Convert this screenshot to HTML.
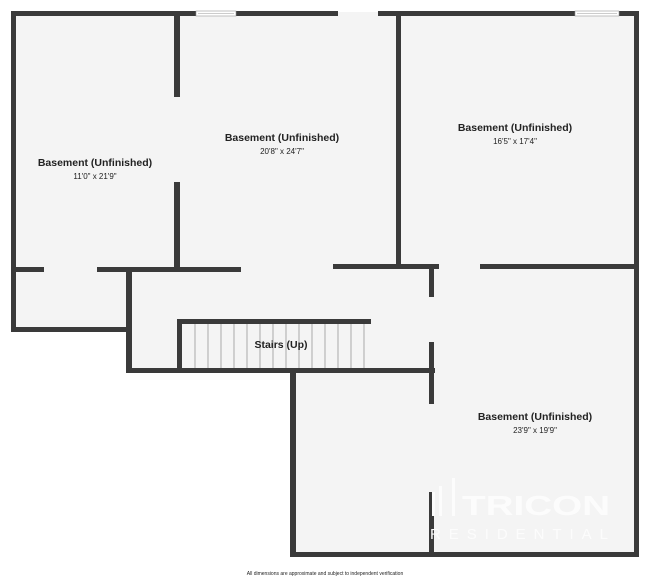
<!DOCTYPE html>
<html><head><meta charset="utf-8"><style>
html,body{margin:0;padding:0;background:#fff;}
svg{display:block;}
text{font-family:"Liberation Sans",sans-serif;fill:#222;}
</style></head><body>
<svg width="650" height="579" viewBox="0 0 650 579" xmlns="http://www.w3.org/2000/svg">
<polygon points="12,12 638,12 638,556 291,556 291,372 127,372 127,331 12,331" fill="#f4f4f4"/>
<g fill="#3a3a3a">
<rect x="11" y="11" width="185" height="5"/>
<rect x="236" y="11" width="102" height="5"/>
<rect x="378" y="11" width="197" height="5"/>
<rect x="619" y="11" width="20" height="5"/>
<rect x="11" y="11" width="5" height="321"/>
<rect x="634" y="11" width="5" height="546"/>
<rect x="174" y="11" width="6" height="86"/>
<rect x="174" y="182" width="6" height="89"/>
<rect x="396" y="11" width="5" height="256"/>
<rect x="11" y="267" width="33" height="5"/>
<rect x="97" y="267" width="144" height="5"/>
<rect x="333" y="264" width="106" height="5"/>
<rect x="480" y="264" width="159" height="5"/>
<rect x="126" y="267" width="6" height="106"/>
<rect x="11" y="327" width="121" height="5"/>
<rect x="429" y="264" width="5" height="33"/>
<rect x="429" y="342" width="5" height="62"/>
<rect x="429" y="492" width="5" height="65"/>
<rect x="177" y="319" width="194" height="5"/>
<rect x="177" y="319" width="5" height="54"/>
<rect x="126" y="368" width="309" height="5"/>
<rect x="290" y="368" width="6" height="189"/>
<rect x="290" y="552" width="349" height="5"/>
</g>
<g fill="#fff" stroke="#999" stroke-width="0.6">
<rect x="196" y="11" width="40" height="5"/>
<rect x="575" y="11" width="44" height="5"/>
</g>
<line x1="198" y1="13.5" x2="234" y2="13.5" stroke="#999" stroke-width="0.5"/>
<line x1="577" y1="13.5" x2="617" y2="13.5" stroke="#999" stroke-width="0.5"/>
<g stroke="#777" stroke-width="0.6">
<line x1="195" y1="324" x2="195" y2="368"/><line x1="208" y1="324" x2="208" y2="368"/>
<line x1="221" y1="324" x2="221" y2="368"/><line x1="234" y1="324" x2="234" y2="368"/>
<line x1="247" y1="324" x2="247" y2="368"/><line x1="260" y1="324" x2="260" y2="368"/>
<line x1="273" y1="324" x2="273" y2="368"/><line x1="286" y1="324" x2="286" y2="368"/>
<line x1="299" y1="324" x2="299" y2="368"/><line x1="312" y1="324" x2="312" y2="368"/>
<line x1="325" y1="324" x2="325" y2="368"/><line x1="338" y1="324" x2="338" y2="368"/>
<line x1="351" y1="324" x2="351" y2="368"/><line x1="364" y1="324" x2="364" y2="368"/>
</g>
<g text-anchor="middle">
<text x="95" y="166" font-size="10.5" font-weight="bold">Basement (Unfinished)</text>
<text x="95" y="179" font-size="8">11'0" x 21'9"</text>
<text x="282" y="141" font-size="10.5" font-weight="bold">Basement (Unfinished)</text>
<text x="282" y="154" font-size="8">20'8" x 24'7"</text>
<text x="515" y="131" font-size="10.5" font-weight="bold">Basement (Unfinished)</text>
<text x="515" y="144" font-size="8">16'5" x 17'4"</text>
<text x="535" y="420" font-size="10.5" font-weight="bold">Basement (Unfinished)</text>
<text x="535" y="433" font-size="8">23'9" x 19'9"</text>
<text x="281" y="348" font-size="10.5" font-weight="bold">Stairs (Up)</text>
<text x="325" y="575" font-size="5" fill="#444">All dimensions are approximate and subject to independent verification</text>
</g>
<g fill="#fcfcfc">
<rect x="432" y="492" width="3" height="24"/>
<rect x="439" y="486" width="3" height="30"/>
<rect x="452" y="478" width="3" height="38"/>
</g>
<text x="462" y="515" font-size="28" font-weight="bold" textLength="148" lengthAdjust="spacingAndGlyphs" style="fill:#fcfcfc">TRICON</text>
<text x="430" y="539" font-size="15" textLength="178" lengthAdjust="spacing" style="fill:#fcfcfc">RESIDENTIAL</text>
</svg>
</body></html>
